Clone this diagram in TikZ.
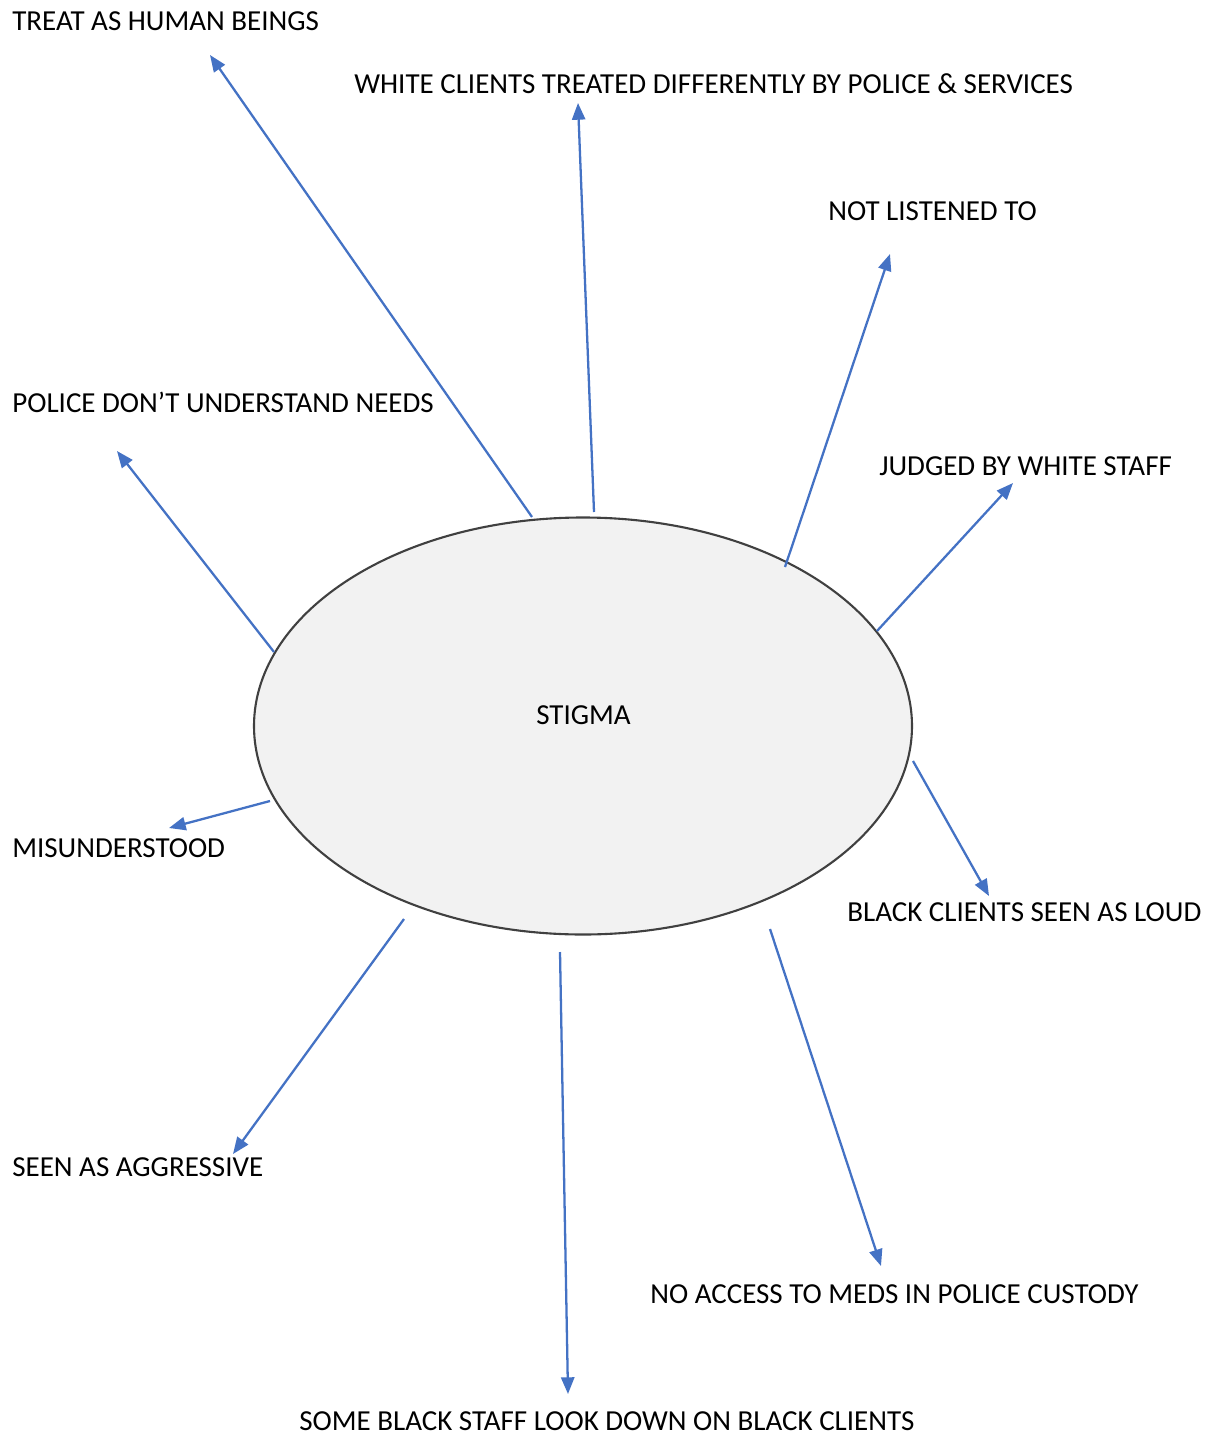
\documentclass[tikz,border=0pt]{standalone}
\usepackage{fontspec}
\setmainfont{Carlito}
\usetikzlibrary{arrows.meta, shapes.geometric}

\definecolor{linkblue}{HTML}{4472C4}
\definecolor{rimgray}{HTML}{404040}
\definecolor{fillgray}{HTML}{F2F2F2}

\begin{document}
\begin{tikzpicture}[
    x=0.02cm, y=-0.02cm,
    hub/.style={ellipse, draw=rimgray, line width=1.2pt, fill=fillgray, minimum width=658*0.02cm, minimum height=417*0.02cm, inner sep=0},
    label/.style={anchor=base west, inner sep=0, font=\fontsize{16.5}{19}\selectfont},
    link/.style={-{Triangle[length=9.5pt, width=7.5pt]}, linkblue, line width=1.3pt}
]
\useasboundingbox (0,0) rectangle (1214,1436);

% Centre
\node[hub] (stigma) at (583,726) {};
\node[label] (stigmatxt) at (536,724) {STIGMA};

% Labels
\node[label] (human) at (12,31) {TREAT AS HUMAN BEINGS};
\node[label] (white) at (354,94) {WHITE CLIENTS TREATED DIFFERENTLY BY POLICE \& SERVICES};
\node[label] (listen) at (828,220) {NOT LISTENED TO};
\node[label] (judged) at (879,475) {JUDGED BY WHITE STAFF};
\node[label] (police) at (12,412) {POLICE DON’T UNDERSTAND NEEDS};
\node[label] (misund) at (12,857) {MISUNDERSTOOD};
\node[label] (loud) at (847,921) {BLACK CLIENTS SEEN AS LOUD};
\node[label] (aggr) at (12,1176) {SEEN AS AGGRESSIVE};
\node[label] (meds) at (650,1303) {NO ACCESS TO MEDS IN POLICE CUSTODY};
\node[label] (staff) at (299,1430) {SOME BLACK STAFF LOOK DOWN ON BLACK CLIENTS};

% Arrow ends
\coordinate (humanS) at (532,517);  \coordinate (humanE) at (210,55);
\coordinate (whiteS) at (594,512);  \coordinate (whiteE) at (578,103);
\coordinate (listenS) at (785,567); \coordinate (listenE) at (890,254);
\coordinate (judgedS) at (877,631); \coordinate (judgedE) at (1013,483);
\coordinate (policeS) at (274,652); \coordinate (policeE) at (117,451);
\coordinate (misundS) at (270,801); \coordinate (misundE) at (169,828);
\coordinate (loudS) at (913,761);   \coordinate (loudE) at (989,896);
\coordinate (aggrS) at (404,919);   \coordinate (aggrE) at (233,1154);
\coordinate (medsS) at (770,929);   \coordinate (medsE) at (881,1266);
\coordinate (staffS) at (560,952);  \coordinate (staffE) at (568,1394);

% Arrows
\foreach \n in {human, white, listen, judged, police, misund, loud, aggr, meds, staff}
    \draw[link] (\n S) -- (\n E);

\end{tikzpicture}
\end{document}
